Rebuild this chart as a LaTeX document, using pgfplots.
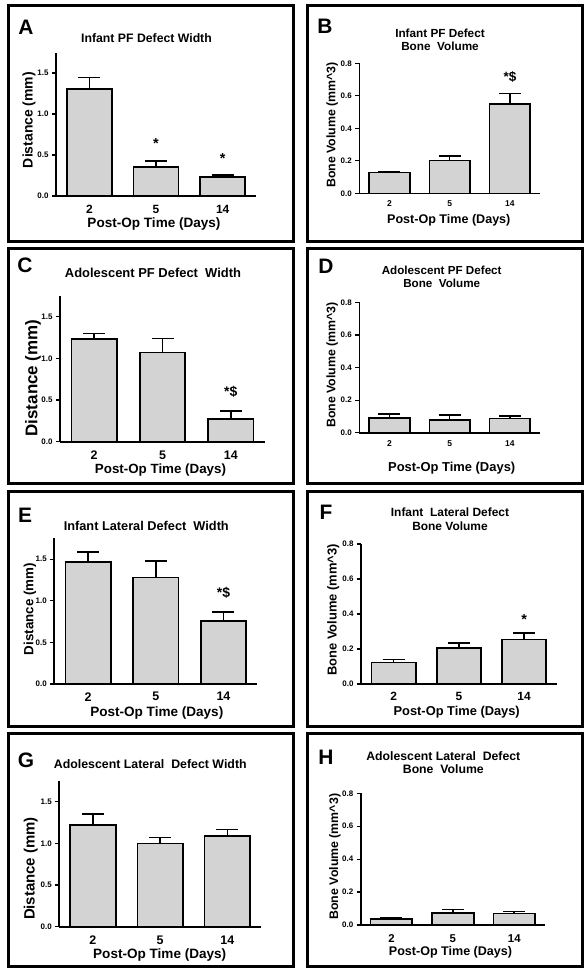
\documentclass[border=0pt]{standalone}
\usepackage{fontspec}
\setmainfont{Liberation Sans}
\usepackage{pgfplots}
\pgfplotsset{compat=1.18}
\definecolor{barfill}{RGB}{211,211,211}
\newcommand{\fs}[1]{\fontsize{#1}{#1}\selectfont}
\pgfplotsset{
  panel/.style={
    scale only axis, anchor=south west, clip=false,
    axis lines=left, axis line style={-, line width=1.6bp, black},
    xmin=-0.5, xmax=2.5, ymin=0,
    xtick={0,1,2}, xticklabels={2,5,14},
    xtick style={draw=none},
    ytick style={line width=1.2bp, black},
    tick align=outside, major tick length=4bp,
    yticklabel style={font=\bfseries\fs{8}},
    /pgf/number format/assume math mode=true,
    /pgf/number format/fixed, /pgf/number format/fixed zerofill,
    /pgf/number format/precision=1,
  },
  leftpanel/.style={panel, ymax=1.75, ytick={0,0.5,1,1.5}},
  rightpanel/.style={panel, ymax=0.8, ytick={0,0.2,0.4,0.6,0.8}},
  barplot/.style={ybar, bar width=#1, fill=barfill, draw=black, line width=1.6bp,
    error bars/.cd, y dir=plus, y explicit,
    error bar style={line width=1.6bp, black},
    error mark options={rotate=90, mark size=11bp, line width=1.6bp, black}},
}
\begin{document}
\begin{tikzpicture}
\useasboundingbox (0,0) rectangle (585bp,-968bp);
% panel frames
\begin{scope}[line width=3bp]
\draw (8bp,-5.3bp) rectangle (293.5bp,-241.5bp);
\draw (307bp,-5.3bp) rectangle (582bp,-241.5bp);
\draw (8bp,-248.5bp) rectangle (293.5bp,-483bp);
\draw (307bp,-248.5bp) rectangle (582bp,-483bp);
\draw (8bp,-491bp) rectangle (293.5bp,-726bp);
\draw (307bp,-491bp) rectangle (582bp,-726bp);
\draw (8bp,-733.5bp) rectangle (293.5bp,-966bp);
\draw (307bp,-733.5bp) rectangle (582bp,-966bp);
\end{scope}

% ---------- A ----------
\begin{axis}[leftpanel, at={(56bp,-196bp)}, width=200bp, height=143.5bp,
  xticklabel style={font=\bfseries\fs{12}, anchor=center, yshift=-9bp}]
\addplot[barplot=45bp] coordinates {(0,1.305) +- (0,0.142) (1,0.357) +- (0,0.073) (2,0.235) +- (0,0.021)};
\node[font=\bfseries\fs{14.5}] at (axis cs:1,0.646) {*};
\node[font=\bfseries\fs{14.5}] at (axis cs:2,0.455) {*};
\end{axis}
\node[font=\bfseries\fs{21}] at (26bp,-27bp) {A};
\node[font=\bfseries\fs{12.3}] at (146.5bp,-38bp) {Infant PF Defect Width};
\node[font=\bfseries\fs{14}, rotate=90] at (29bp,-120bp) {Distance (mm)};
\node[font=\bfseries\fs{13.6}] at (154bp,-224bp) {Post-Op Time (Days)};

% ---------- B ----------
\begin{axis}[rightpanel, at={(359.3bp,-193.3bp)}, width=180.7bp, height=130bp,
  xticklabel style={font=\bfseries\fs{8.5}, anchor=center, yshift=-6.7bp}]
\addplot[barplot=40.7bp] coordinates {(0,0.127) +- (0,0.006) (1,0.203) +- (0,0.028) (2,0.549) +- (0,0.066)};
\node[font=\bfseries\fs{13.5}] at (axis cs:2,0.716) {*\$};
\end{axis}
\node[font=\bfseries\fs{21}] at (325bp,-26.7bp) {B};
\node[font=\bfseries\fs{11.8}, align=center] at (440bp,-39.5bp) {Infant PF Defect\\[1.5bp]Bone~ Volume};
\node[font=\bfseries\fs{12.4}, rotate=90] at (332.3bp,-125bp) {Bone Volume (mm\textasciicircum 3)};
\node[font=\bfseries\fs{12.6}] at (448.8bp,-220bp) {Post-Op Time (Days)};

% ---------- C ----------
\begin{axis}[leftpanel, at={(60bp,-441.7bp)}, width=205bp, height=145.8bp,
  xticklabel style={font=\bfseries\fs{12.5}, anchor=center, yshift=-9.3bp}]
\addplot[barplot=45.5bp] coordinates {(0,1.233) +- (0,0.067) (1,1.073) +- (0,0.167) (2,0.272) +- (0,0.096)};
\node[font=\bfseries\fs{14}] at (axis cs:2,0.60) {*\$};
\end{axis}
\node[font=\bfseries\fs{21}] at (25bp,-265bp) {C};
\node[font=\bfseries\fs{13}] at (153bp,-273.3bp) {Adolescent PF Defect~ Width};
\node[font=\bfseries\fs{17}, rotate=90] at (33bp,-378bp) {Distance (mm)};
\node[font=\bfseries\fs{13.4}] at (160.5bp,-470bp) {Post-Op Time (Days)};

% ---------- D ----------
\begin{axis}[rightpanel, at={(359.3bp,-432.7bp)}, width=180.7bp, height=130.4bp,
  xticklabel style={font=\bfseries\fs{8.5}, anchor=center, yshift=-7.3bp}]
\addplot[barplot=40.7bp] coordinates {(0,0.092) +- (0,0.023) (1,0.078) +- (0,0.031) (2,0.088) +- (0,0.014)};
\end{axis}
\node[font=\bfseries\fs{21}] at (326bp,-266.7bp) {D};
\node[font=\bfseries\fs{11.7}, align=center] at (441.7bp,-276.7bp) {Adolescent PF Defect\\[1.5bp]Bone~ Volume};
\node[font=\bfseries\fs{12.4}, rotate=90] at (332.3bp,-365bp) {Bone Volume (mm\textasciicircum 3)};
\node[font=\bfseries\fs{13}] at (451.7bp,-467.7bp) {Post-Op Time (Days)};

% ---------- E ----------
\begin{axis}[leftpanel, at={(54.3bp,-684bp)}, width=203bp, height=145.6bp,
  xticklabel style={font=\bfseries\fs{12.5}, anchor=center, yshift=-8.7bp}]
\addplot[barplot=45.5bp] coordinates {(0,1.47) +- (0,0.117) (1,1.282) +- (0,0.196) (2,0.757) +- (0,0.105)};
\node[font=\bfseries\fs{14}] at (axis cs:2,1.09) {*\$};
\end{axis}
\node[font=\bfseries\fs{21}] at (25bp,-515bp) {E};
\node[font=\bfseries\fs{12.8}] at (146.3bp,-526bp) {Infant Lateral Defect~ Width};
\node[font=\bfseries\fs{13.4}, rotate=90] at (30bp,-609bp) {Distance (mm)};
\node[font=\bfseries\fs{13.6}] at (156.8bp,-712.7bp) {Post-Op Time (Days)};

% ---------- F ----------
\begin{axis}[rightpanel, at={(361bp,-684bp)}, width=195.7bp, height=140bp,
  xticklabel style={font=\bfseries\fs{12}, anchor=center, yshift=-8.7bp}]
\addplot[barplot=44.3bp] coordinates {(0,0.122) +- (0,0.017) (1,0.207) +- (0,0.029) (2,0.255) +- (0,0.035)};
\node[font=\bfseries\fs{14.5}] at (axis cs:2,0.371) {*};
\end{axis}
\node[font=\bfseries\fs{21}] at (326bp,-512.3bp) {F};
\node[font=\bfseries\fs{12}, align=center] at (450bp,-519.2bp) {Infant~ Lateral Defect\\[1.5bp]Bone Volume};
\node[font=\bfseries\fs{13}, rotate=90] at (333.3bp,-610bp) {Bone Volume (mm\textasciicircum 3)};
\node[font=\bfseries\fs{12.9}] at (456.7bp,-711.7bp) {Post-Op Time (Days)};

% ---------- G ----------
\begin{axis}[leftpanel, at={(59.3bp,-926.7bp)}, width=201.7bp, height=145.7bp,
  xticklabel style={font=\bfseries\fs{12.5}, anchor=center, yshift=-9.3bp}]
\addplot[barplot=45.7bp] coordinates {(0,1.22) +- (0,0.133) (1,1.0) +- (0,0.073) (2,1.092) +- (0,0.077)};
\end{axis}
\node[font=\bfseries\fs{21}] at (26bp,-760bp) {G};
\node[font=\bfseries\fs{12.4}] at (150.3bp,-764bp) {Adolescent Lateral~ Defect Width};
\node[font=\bfseries\fs{15}, rotate=90] at (30.7bp,-868.5bp) {Distance (mm)};
\node[font=\bfseries\fs{13.6}] at (159.7bp,-955bp) {Post-Op Time (Days)};

% ---------- H ----------
\begin{axis}[rightpanel, at={(360.7bp,-925bp)}, width=184.3bp, height=131.7bp,
  xticklabel style={font=\bfseries\fs{11.4}, anchor=center, yshift=-9.3bp}]
\addplot[barplot=41.7bp] coordinates {(0,0.036) +- (0,0.008) (1,0.073) +- (0,0.022) (2,0.071) +- (0,0.012)};
\end{axis}
\node[font=\bfseries\fs{21}] at (326bp,-757.3bp) {H};
\node[font=\bfseries\fs{12.3}, align=center] at (443.3bp,-762.5bp) {Adolescent Lateral~ Defect\\[1.5bp]Bone~ Volume};
\node[font=\bfseries\fs{12.4}, rotate=90] at (335bp,-856.7bp) {Bone Volume (mm\textasciicircum 3)};
\node[font=\bfseries\fs{12.6}] at (450.5bp,-952.7bp) {Post-Op Time (Days)};
\end{tikzpicture}
\end{document}
